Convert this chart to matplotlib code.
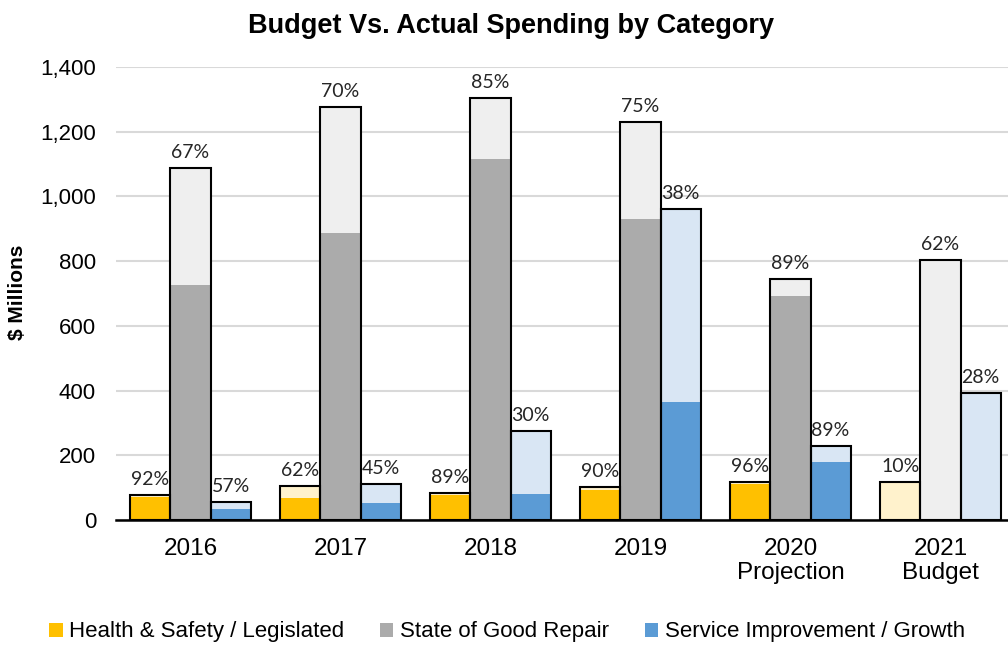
import numpy as np
import matplotlib
matplotlib.use("Agg")
import matplotlib.pyplot as plt
from matplotlib.patches import Patch

# ====== Data ($ Millions) ======
years = ["2016", "2017", "2018", "2019", "2020\nProjection", "2021\nBudget"]
series_names = ["Health & Safety / Legislated", "State of Good Repair",
                "Service Improvement / Growth"]

hs_budget = [78, 105, 83, 103, 117, 117]
hs_actual = [72, 67, 76, 92, 112, 0]
hs_pct = ["92%", "62%", "89%", "90%", "96%", "10%"]

sgr_budget = [1088, 1277, 1304, 1230, 745, 803]
sgr_actual = [726, 887, 1116, 930, 692, 0]
sgr_pct = ["67%", "70%", "85%", "75%", "89%", "62%"]

si_budget = [56, 111, 275, 961, 229, 392]
si_actual = [35, 52, 80, 365, 179, 0]
si_pct = ["57%", "45%", "30%", "38%", "89%", "28%"]

# ====== Style ======
DARK = ["#FFC000", "#ABABAB", "#5B9BD5"]
LIGHT = ["#FFF2CC", "#EFEFEF", "#D9E6F4"]
BAR_W = 0.267
NARROW = ["Liberation Sans Narrow", "Liberation Sans", "DejaVu Sans"]
REGULAR = ["Liberation Sans", "DejaVu Sans"]

fig = plt.figure(figsize=(10.08, 6.46), dpi=100)
ax = fig.add_axes([115.5 / 1008, 126 / 646, 900 / 1008, 453 / 646])

x = np.arange(len(years))
groups = [
    (hs_budget, hs_actual, hs_pct),
    (sgr_budget, sgr_actual, sgr_pct),
    (si_budget, si_actual, si_pct),
]

for i, (budget, actual, pct) in enumerate(groups):
    bx = x + (i - 1) * BAR_W
    ax.bar(bx, budget, BAR_W, color=LIGHT[i], linewidth=0, zorder=2)
    ax.bar(bx, actual, BAR_W, color=DARK[i], linewidth=0, zorder=3)
    rects = ax.bar(bx, budget, BAR_W, fill=False, edgecolor="black",
                   linewidth=1.5, zorder=4)
    for rect, lab in zip(rects, pct):
        ax.annotate(lab, xy=(rect.get_x() + rect.get_width() / 2, rect.get_height()),
                    xytext=(0, 5), textcoords="offset points",
                    ha="center", va="bottom", fontsize=14,
                    family=["Lato", "DejaVu Sans"], color="#262626", zorder=5)

ax.set_xlim(-0.5, len(years) - 0.5)
ax.set_ylim(0, 1400)
ax.set_yticks(np.arange(0, 1401, 200))
ax.set_yticklabels([f"{v:,}" for v in range(0, 1401, 200)],
                   family=REGULAR, fontsize=16)
ax.set_xticks(x)
ax.set_xticklabels(years, family=NARROW, fontsize=17.5, linespacing=1.1)
ax.tick_params(axis="both", length=0)
ax.tick_params(axis="x", pad=13)
ax.tick_params(axis="y", pad=14)

ax.grid(axis="y", color="#D9D9D9", linewidth=1.5, zorder=0)
ax.set_axisbelow(True)
for side in ["top", "right", "left"]:
    ax.spines[side].set_visible(False)
ax.spines["bottom"].set_linewidth(1.8)
ax.spines["bottom"].set_zorder(6)

fig.text(18 / 1008, 1 - 292 / 646, "$ Millions", rotation=90, ha="center",
         va="center", family=NARROW, fontweight="bold", fontsize=15)

fig.text(511 / 1008, 1 - 26 / 646, "Budget Vs. Actual Spending by Category",
         ha="center", va="center", family=REGULAR, fontweight="bold", fontsize=19.5)

handles = [Patch(facecolor=c, edgecolor="none") for c in DARK]
fig.legend(handles, series_names, loc="center", bbox_to_anchor=(507 / 1008, 14 / 646),
           ncol=3, frameon=False, handlelength=0.6, handleheight=0.6,
           handletextpad=0.3, columnspacing=1.6,
           prop={"family": NARROW, "size": 16})

fig.savefig("out.png", dpi=100)
